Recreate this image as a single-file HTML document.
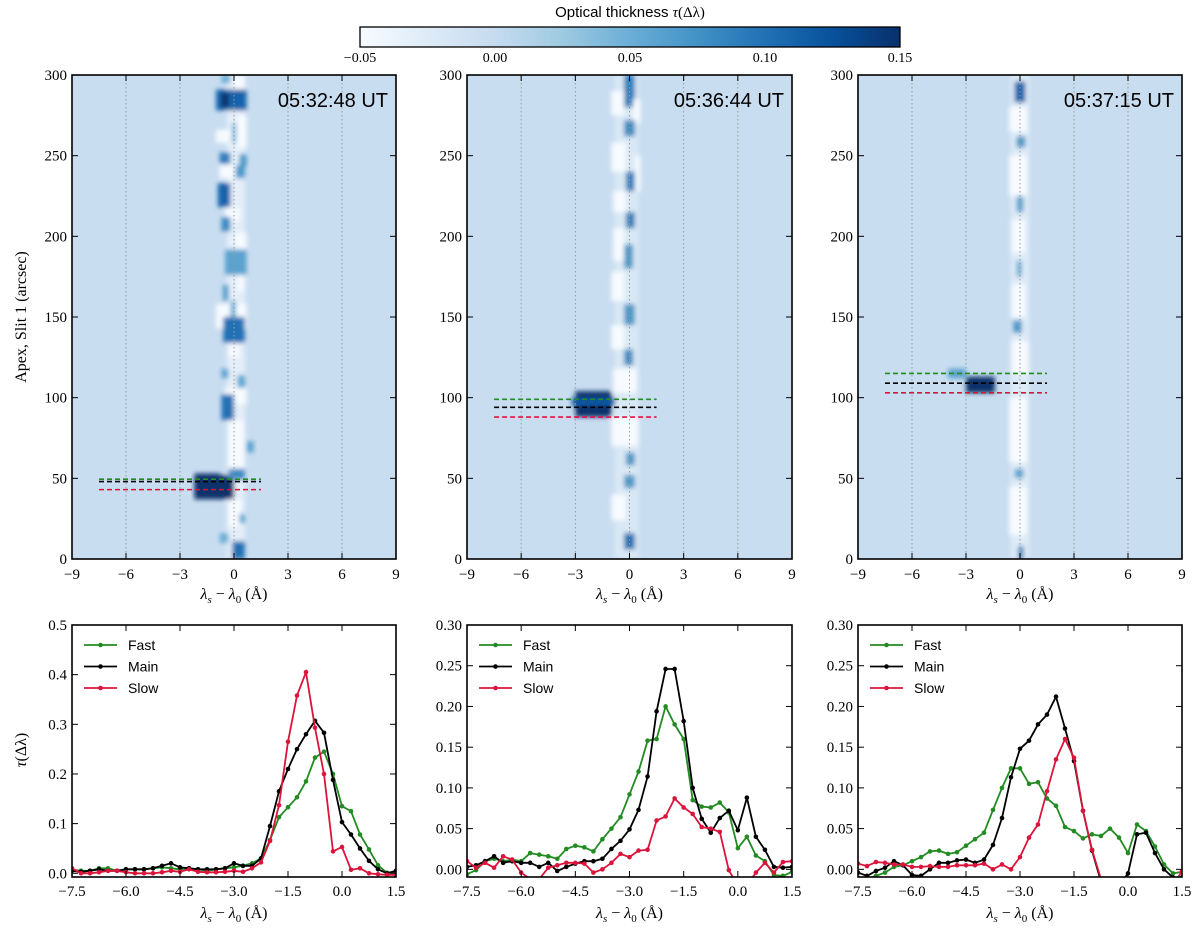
<!DOCTYPE html>
<html><head><meta charset="utf-8"><style>
body{margin:0;background:#fff;}
svg text{font-family:"Liberation Serif",serif;}
.sans{font-family:"Liberation Sans",sans-serif !important;}
</style></head><body>
<svg id="fig" width="1200" height="933" xmlns="http://www.w3.org/2000/svg">
<defs>
<linearGradient id="cbgrad" x1="0" x2="1" y1="0" y2="0">
<stop offset="0" stop-color="#f7fbff"/><stop offset="0.125" stop-color="#deebf7"/><stop offset="0.25" stop-color="#c6dbef"/><stop offset="0.375" stop-color="#9ecae1"/><stop offset="0.5" stop-color="#6baed6"/><stop offset="0.625" stop-color="#4292c6"/><stop offset="0.75" stop-color="#2171b5"/><stop offset="0.875" stop-color="#08519c"/><stop offset="1" stop-color="#08306b"/>
</linearGradient>
<filter id="soft" x="-5%" y="-5%" width="110%" height="110%"><feGaussianBlur stdDeviation="2.4"/></filter>
</defs>
<g>
<rect x="360" y="27" width="540" height="20" fill="url(#cbgrad)" stroke="#000" stroke-width="1.3"/>
<text x="630" y="17" text-anchor="middle" font-size="15" class="sans">Optical thickness <tspan font-family="Liberation Serif" font-style="italic">τ</tspan><tspan font-family="Liberation Serif">(Δλ)</tspan></text>
<text x="360" y="62" text-anchor="middle" font-size="14">−0.05</text>
<text x="495" y="62" text-anchor="middle" font-size="14">0.00</text>
<text x="630" y="62" text-anchor="middle" font-size="14">0.05</text>
<text x="765" y="62" text-anchor="middle" font-size="14">0.10</text>
<text x="900" y="62" text-anchor="middle" font-size="14">0.15</text>
</g>
<text transform="translate(26,317) rotate(-90)" text-anchor="middle" font-size="16">Apex, Slit 1 (arcsec)</text>
<text transform="translate(26,750) rotate(-90)" text-anchor="middle" font-size="16"><tspan font-style="italic">τ</tspan>(Δλ)</text>
</svg>
<script>
// ---- spectral profile data (bottom panels) ----
const lam = Array.from({length:37},(_,i)=>-7.5+0.25*i);
const fast1=[0.007,0.005,0.005,0.01,0.01,0.005,0.008,0.008,0.008,0.01,0.012,0.01,0.008,0.01,0.008,0.005,0.008,0.01,0.012,0.015,0.02,0.03,0.067,0.113,0.133,0.153,0.185,0.233,0.245,0.2,0.135,0.125,0.078,0.048,0.016,0.001,0.003];
const main1=[0.005,0.003,0.005,0.008,0.005,0.005,0.008,0.008,0.008,0.01,0.015,0.02,0.012,0.01,0.008,0.008,0.008,0.01,0.02,0.015,0.015,0.03,0.095,0.165,0.21,0.25,0.28,0.307,0.283,0.188,0.103,0.078,0.05,0.025,0.008,0.0,0.005];
const slow1=[0.01,0.0,0.0,0.002,0.005,0.005,0.002,0.0,0.0,0.0,0.002,0.005,0.003,0.008,0.003,0.002,0.002,0.003,0.005,0.003,0.01,0.022,0.065,0.137,0.265,0.358,0.405,0.293,0.2,0.044,0.053,0.007,0.01,0.0,-0.002,-0.003,-0.003];
const fast2=[-0.006,-0.001,0.01,0.013,0.01,0.012,0.01,0.02,0.018,0.016,0.013,0.025,0.029,0.027,0.022,0.037,0.05,0.064,0.092,0.12,0.158,0.16,0.2,0.178,0.16,0.085,0.077,0.076,0.082,0.07,0.026,0.04,0.017,0.01,-0.007,-0.008,-0.003];
const main2=[0.003,0.005,0.01,0.016,0.008,0.01,0.008,0.008,0.003,0.008,-0.002,0.003,0.007,0.01,0.01,0.013,0.025,0.035,0.049,0.073,0.114,0.194,0.246,0.246,0.182,0.1,0.062,0.045,0.063,0.072,0.048,0.088,0.04,0.024,0.003,0.002,0.003];
const slow2=[0.01,0.002,0.008,0.002,0.016,0.012,-0.004,-0.012,-0.012,0.002,0.005,0.008,0.008,0.007,-0.004,0.0,0.008,0.019,0.015,0.023,0.024,0.06,0.065,0.087,0.076,0.068,0.052,0.05,0.046,-0.001,-0.02,-0.02,-0.004,0.008,-0.004,0.009,0.01];
const fast3=[-0.01,-0.012,-0.008,-0.004,0.003,0.005,0.01,0.015,0.022,0.023,0.019,0.021,0.029,0.037,0.045,0.073,0.1,0.124,0.124,0.105,0.107,0.087,0.078,0.052,0.047,0.038,0.043,0.041,0.05,0.039,0.02,0.055,0.047,0.028,0.006,-0.005,-0.003];
const main3=[-0.004,-0.008,-0.002,0.002,0.01,0.005,-0.007,-0.008,0.0,0.008,0.008,0.011,0.012,0.008,0.012,0.03,0.063,0.113,0.148,0.158,0.178,0.19,0.212,0.173,0.133,0.072,0.023,-0.015,-0.02,-0.02,-0.005,0.043,0.045,0.02,0.0,-0.01,-0.01];
const slow3=[0.007,0.004,0.009,0.008,0.006,0.006,0.003,0.003,0.004,0.003,0.003,0.005,0.005,0.005,0.007,0.0,0.006,0.0,0.015,0.039,0.055,0.096,0.135,0.16,0.137,0.072,0.024,-0.012,-0.03,-0.03,-0.03,-0.03,-0.03,-0.03,-0.03,-0.02,-0.002];
const yTicks1=[0,0.1,0.2,0.3,0.4,0.5];
const yTickLabels1=["0.0","0.1","0.2","0.3","0.4","0.5"];
const yTicks23=[0,0.05,0.1,0.15,0.2,0.25,0.3];
const yTickLabels23=["0.00","0.05","0.10","0.15","0.20","0.25","0.30"];
const xTicksB=[-7.5,-6,-4.5,-3,-1.5,0,1.5];
const xTickLabelsB=["−7.5","−6.0","−4.5","−3.0","−1.5","0.0","1.5"];
// ---- heatmap features: [lam0, lam1, y0, y1, tau] ----
const heatBg=-0.003;
const feats1=[[-0.4,0.6,0,300,-0.03],[0,0.6,288,300,-0.05],[-0.7,-0.2,295,300,0.05],[-1,0.7,278,291,0.11],[-0.7,-0.3,280,289,0.15],[-1,-0.2,258,266,-0.05],[0.2,0.7,255,275,-0.05],[-0.1,0.1,258,270,0.05],[-0.8,-0.2,245,252,0.09],[0.3,0.7,243,251,0.07],[-0.8,0,236,244,-0.05],[0.1,0.6,236,244,0.07],[-0.9,-0.2,218,233,0.11],[-0.5,0.3,210,218,-0.05],[-0.7,-0.2,203,212,0.08],[0.1,0.7,188,202,-0.05],[-0.5,0.7,176,192,0.06],[0.2,0.6,166,176,-0.05],[-0.6,-0.3,160,170,0.07],[-1,0.7,143,158,-0.05],[-0.2,0.1,145,160,0.05],[-0.6,0.6,134,150,0.1],[-0.3,0.3,125,133,-0.05],[-0.7,-0.3,112,118,0.06],[0.2,0.6,106,114,0.06],[-0.5,0.7,96,106,-0.05],[-0.7,0,86,102,0.1],[-0.3,0.6,54,86,-0.05],[0.7,1.1,66,73,0.06],[-2.2,0,37,52,0.15],[-2.2,-0.8,40,53,0.15],[-0.3,0.6,49,56,0.08],[-0.3,0.4,20,37,-0.05],[0.3,0.6,22,28,0.06],[-0.1,0.6,0,11,0.1],[-0.8,-0.3,10,16,0.05]];
const feats2=[[-0.8,0.5,0,300,-0.02],[-0.3,0.3,280,300,0.09],[-1,-0.3,275,290,-0.05],[0.2,0.6,270,285,-0.05],[-0.3,0.3,262,272,0.08],[-1,-0.2,240,258,-0.05],[-0.2,0.3,228,240,0.09],[0.3,0.6,228,250,-0.05],[-0.9,-0.2,215,228,-0.05],[-0.2,0.3,205,215,0.09],[-0.9,-0.3,185,205,-0.05],[-0.3,0.2,180,195,0.07],[-1,-0.3,160,178,-0.05],[-0.3,0.3,145,158,0.07],[-1,-0.3,130,145,-0.05],[-0.3,0.2,120,130,0.08],[-0.9,0.4,103,118,-0.05],[-3,-1,88,104,0.15],[-3.2,-0.8,95,100,0.12],[-1,0.5,70,88,-0.05],[-0.2,0.3,58,66,0.07],[-0.3,0.3,44,52,0.07],[-1,-0.2,24,40,-0.05],[-0.3,0.3,6,16,0.1]];
const feats3=[[-0.5,0.5,0,300,-0.025],[-0.3,0.3,283,296,0.11],[-0.6,0.4,265,280,-0.05],[-0.2,0.3,255,262,0.07],[-0.6,0.4,225,250,-0.05],[-0.2,0.2,215,225,0.06],[-0.5,0.3,190,210,-0.05],[-0.2,0.1,175,185,0.05],[-0.5,0.3,150,170,-0.05],[-0.4,0.1,140,148,0.07],[-0.5,0.5,115,135,-0.05],[-4,-3,112,118,0.06],[-3,-1.4,103,113,0.15],[-0.6,0.4,60,100,-0.05],[-0.3,0.2,50,56,0.06],[-0.6,0.4,15,45,-0.05],[-0.1,0.2,0,8,0.09]];
const cuts1=[49.5,48,43], cuts2=[99,94,88], cuts3=[115,109,103];
const times=["05:32:48 UT","05:36:44 UT","05:37:15 UT"];
const xTicksT=[-9,-6,-3,0,3,6,9];
const xTickLabelsT=["−9","−6","−3","0","3","6","9"];
const yTicksT=[0,50,100,150,200,250,300];

const NS="http://www.w3.org/2000/svg";
const svg=document.getElementById('fig');
function mk(tag,attrs,parent){const e=document.createElementNS(NS,tag);for(const k in attrs)e.setAttribute(k,attrs[k]);(parent||svg).appendChild(e);return e;}
const stops=[[247,251,255],[222,235,247],[198,219,239],[158,202,225],[107,174,214],[66,146,198],[33,113,181],[8,81,156],[8,48,107]];
function blues(v){let t=(v+0.05)/0.2;t=Math.max(0,Math.min(1,t))*8;const i=Math.min(7,Math.floor(t)),f=t-i;const a=stops[i],b=stops[i+1];return `rgb(${a.map((c,k)=>Math.round(c+(b[k]-c)*f)).join(',')})`;}

const topX=[72,467,858], topW=[324,325,324];
const featsAll=[feats1,feats2,feats3], cutsAll=[cuts1,cuts2,cuts3];
const cutColors=["#228b22","#000","#dc143c"];
for(let p=0;p<3;p++){
  const x0=topX[p],w=topW[p],y0=75,h=484;
  const sx=l=>x0+(l+9)/18*w, sy=v=>y0+h-(v/300)*h;
  const g=mk('g',{});
  
  
  const cp=mk('clipPath',{id:'cpt'+p},g);mk('rect',{x:x0,y:y0,width:w,height:h},cp);
  const bg=mk('rect',{x:x0,y:y0,width:w,height:h,fill:blues(heatBg)},g);
  
  
  const fg=mk('g',{'clip-path':`url(#cpt${p})`},g);
  const fg2=mk('g',{filter:'url(#soft)'},fg);
  featsAll[p].forEach(f=>{
    const r=mk('rect',{x:sx(f[0]),y:sy(f[3]),width:sx(f[1])-sx(f[0]),height:sy(f[2])-sy(f[3]),fill:blues(f[4])},fg2);
    
    
  });
  [-6,-3,0,3,6].forEach(l=>{const gl=mk('line',{x1:sx(l),x2:sx(l),y1:y0,y2:y0+h,stroke:'#999','stroke-width':1,'stroke-dasharray':'1.5,2.5'},g);
    });
  cutsAll[p].forEach((c,i)=>{const dl=mk('line',{x1:sx(-7.5),x2:sx(1.5),y1:sy(c),y2:sy(c),stroke:cutColors[i],'stroke-width':1.6,'stroke-dasharray':'5,3'},g);
    });
  const fr=mk('rect',{x:x0,y:y0,width:w,height:h,fill:'none',stroke:'#000','stroke-width':1.6},g);
  
  xTicksT.forEach((t,i)=>{mk('line',{x1:sx(t),x2:sx(t),y1:y0+h,y2:y0+h-6,stroke:'#000'},g);mk('line',{x1:sx(t),x2:sx(t),y1:y0,y2:y0+6,stroke:'#000'},g);
    const tx=mk('text',{x:sx(t),y:y0+h+20,'text-anchor':'middle','font-size':15},g);tx.textContent=xTickLabelsT[i];
    });
  yTicksT.forEach(t=>{mk('line',{x1:x0,x2:x0+6,y1:sy(t),y2:sy(t),stroke:'#000'},g);mk('line',{x1:x0+w,x2:x0+w-6,y1:sy(t),y2:sy(t),stroke:'#000'},g);
    const tx=mk('text',{x:x0-5,y:sy(t)+5,'text-anchor':'end','font-size':15},g);tx.textContent=t;
    });
  const tl=mk('text',{x:x0+w-8,y:y0+32,'text-anchor':'end','font-size':20,class:'sans'},g);tl.textContent=times[p];
  
  const xl=mk('text',{x:x0+w/2,y:y0+h+40,'text-anchor':'middle','font-size':16},g);
  xl.innerHTML='<tspan font-style="italic">λ</tspan><tspan font-size="11" font-style="italic" dy="4">s</tspan><tspan dy="-4"> − </tspan><tspan font-style="italic">λ</tspan><tspan font-size="11" dy="4">0</tspan><tspan dy="-4"> (Å)</tspan>';
  
}

// bottom panels
const botX=[72,467,858], botW=[324,325,324];
const seriesAll=[[fast1,main1,slow1],[fast2,main2,slow2],[fast3,main3,slow3]];
const ylims=[[-0.0075,0.5],[-0.0094,0.3],[-0.0094,0.3]];
const names=["Fast","Main","Slow"], cols=["#228b22","#000","#dc143c"];
for(let p=0;p<3;p++){
  const x0=botX[p],w=botW[p],y0=625,h=252;
  const [lo,hi]=ylims[p];
  const sx=l=>x0+(l+7.5)/9*w, sy=v=>y0+h-(v-lo)/(hi-lo)*h;
  const g=mk('g',{});
  
  
  const cp=mk('clipPath',{id:'cpb'+p},g);mk('rect',{x:x0,y:y0,width:w,height:h},cp);
  const pg=mk('g',{'clip-path':`url(#cpb${p})`},g);
  seriesAll[p].forEach((s,si)=>{
    const pts=s.map((v,i)=>sx(lam[i]).toFixed(1)+','+sy(v).toFixed(1)).join(' ');
    const pl=mk('polyline',{points:pts,fill:'none',stroke:cols[si],'stroke-width':1.8},pg);
    
    s.forEach((v,i)=>{const c=mk('circle',{cx:sx(lam[i]),cy:sy(v),r:2.3,fill:cols[si]},pg);
      });
  });
  const fr=mk('rect',{x:x0,y:y0,width:w,height:h,fill:'none',stroke:'#000','stroke-width':1.6},g);
  
  xTicksB.forEach((t,i)=>{mk('line',{x1:sx(t),x2:sx(t),y1:y0+h,y2:y0+h-6,stroke:'#000'},g);mk('line',{x1:sx(t),x2:sx(t),y1:y0,y2:y0+6,stroke:'#000'},g);
    const tx=mk('text',{x:sx(t),y:y0+h+19,'text-anchor':'middle','font-size':15},g);tx.textContent=xTickLabelsB[i];
    });
  const yt=p==0?yTicks1:yTicks23, ytl=p==0?yTickLabels1:yTickLabels23;
  yt.forEach((t,i)=>{mk('line',{x1:x0,x2:x0+6,y1:sy(t),y2:sy(t),stroke:'#000'},g);mk('line',{x1:x0+w,x2:x0+w-6,y1:sy(t),y2:sy(t),stroke:'#000'},g);
    const tx=mk('text',{x:x0-5,y:sy(t)+5,'text-anchor':'end','font-size':15},g);tx.textContent=ytl[i];
    });
  names.forEach((n,i)=>{const ly=y0+20+i*21.5;
    const lg=mk('g',{},g);
    mk('line',{x1:x0+12,x2:x0+45,y1:ly,y2:ly,stroke:cols[i],'stroke-width':1.8},lg);
    mk('circle',{cx:x0+28.5,cy:ly,r:2.3,fill:cols[i]},lg);
    const tx=mk('text',{x:x0+56,y:ly+5,'font-size':14,class:'sans'},lg);tx.textContent=n;});
  const xl=mk('text',{x:x0+w/2,y:y0+h+41,'text-anchor':'middle','font-size':16},g);
  xl.innerHTML='<tspan font-style="italic">λ</tspan><tspan font-size="11" font-style="italic" dy="4">s</tspan><tspan dy="-4"> − </tspan><tspan font-style="italic">λ</tspan><tspan font-size="11" dy="4">0</tspan><tspan dy="-4"> (Å)</tspan>';
  
}
</script>
</body></html>
